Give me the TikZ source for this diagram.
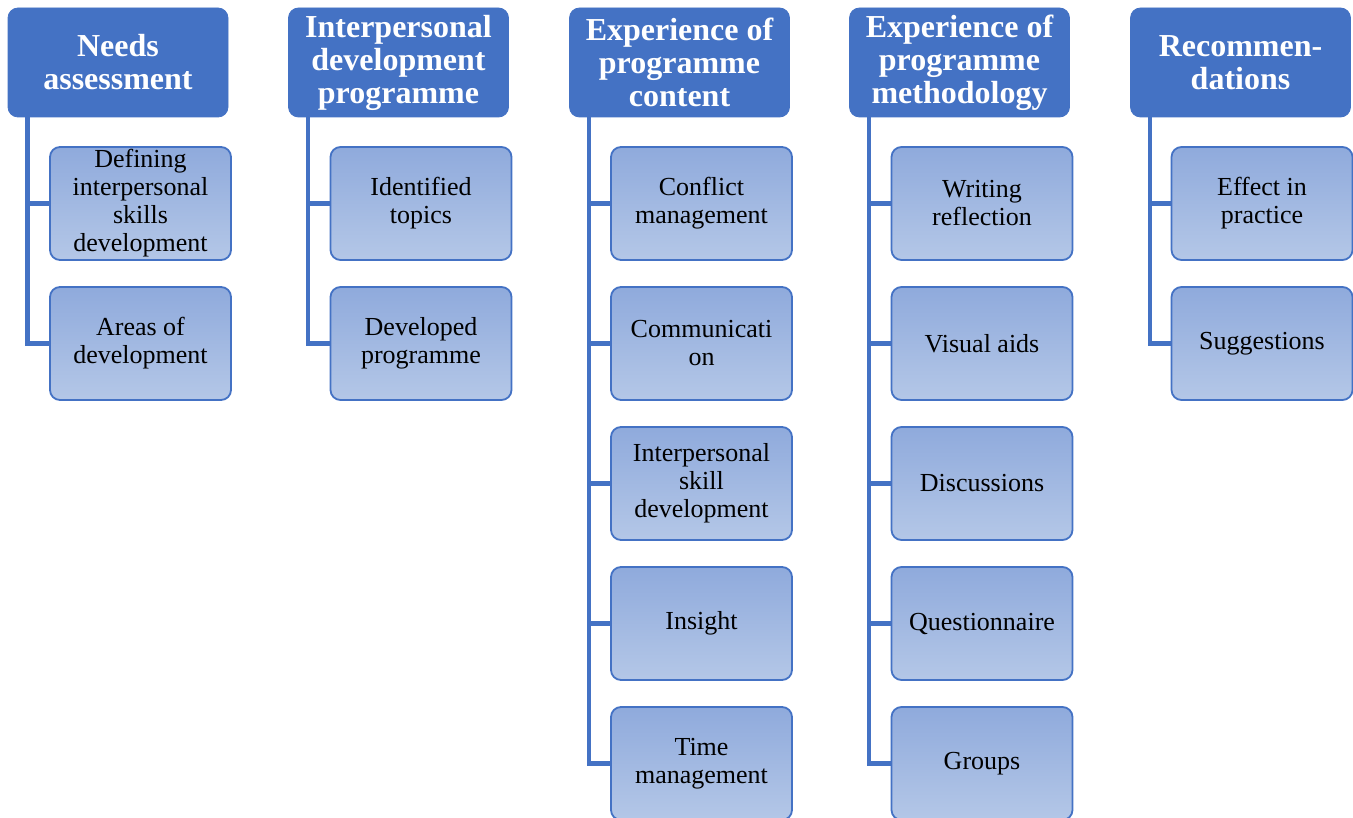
\documentclass[tikz,border=0pt]{standalone}
\usepackage{fontspec}
\setmainfont{Liberation Serif}
\usepackage{tikz}

\definecolor{hdblue}{HTML}{4472C4}
\definecolor{boxtop}{HTML}{8FAADC}
\definecolor{boxbot}{HTML}{B4C7E7}

\begin{document}
\begin{tikzpicture}[x=0.5pt, y=-0.5pt]
\tikzstyle{head} = [rectangle, rounded corners=5pt, fill=hdblue, draw=hdblue,
  minimum width=110pt, minimum height=54.5pt, align=center, text=white,
  font=\fontsize{16}{16.5}\selectfont\bfseries]
\tikzstyle{item} = [rectangle, rounded corners=5pt, draw=hdblue, line width=0.9pt,
  top color=boxtop, bottom color=boxbot, inner ysep=1pt,
  minimum width=90.5pt, minimum height=56.5pt, align=center,
  font=\fontsize{13}{14}\selectfont]
\tikzstyle{link} = [draw=hdblue, line width=2.3pt]
\useasboundingbox (0,0) rectangle (1353,818);

% headers
\node[head] (na) at (118, 62.5) {Needs\\assessment};
\node[head] (idp) at (398.5, 62.5) {Interpersonal\\development\\programme};
\node[head] (epc) at (679.5, 62.5) {Experience of\\programme\\content};
\node[head] (epm) at (959.5, 62.5) {Experience of\\programme\\methodology};
\node[head] (rec) at (1240.5, 62.5) {Recommen-\\dations};

% needs assessment
\node[item] (na1) at (140.5, 203.5) {Defining\\interpersonal\\skills\\development};
\node[item] (na2) at (140.5, 343.5) {Areas of\\development};

% programme
\node[item] (idp1) at (421, 203.5) {Identified\\topics};
\node[item] (idp2) at (421, 343.5) {Developed\\programme};

% content
\node[item] (epc1) at (701.5, 203.5) {Conflict\\management};
\node[item] (epc2) at (701.5, 343.5) {Communicati\\on};
\node[item] (epc3) at (701.5, 483.5) {Interpersonal\\skill\\development};
\node[item] (epc4) at (701.5, 623.5) {Insight};
\node[item] (epc5) at (701.5, 763.5) {Time\\management};

% methodology
\node[item] (epm1) at (982, 203.5) {Writing\\reflection};
\node[item] (epm2) at (982, 343.5) {Visual aids};
\node[item] (epm3) at (982, 483.5) {Discussions};
\node[item] (epm4) at (982, 623.5) {Questionnaire};
\node[item] (epm5) at (982, 763.5) {Groups};

% recommendations
\node[item] (rec1) at (1262, 203.5) {Effect in\\practice};
\node[item] (rec2) at (1262, 343.5) {Suggestions};

\foreach \from/\to in {na/na1, na/na2, idp/idp1, idp/idp2,
  epc/epc1, epc/epc2, epc/epc3, epc/epc4, epc/epc5,
  epm/epm1, epm/epm2, epm/epm3, epm/epm4, epm/epm5, rec/rec1, rec/rec2}
  \draw[link] ([xshift=10pt]\from.south west) |- (\to.west);
\end{tikzpicture}
\end{document}
